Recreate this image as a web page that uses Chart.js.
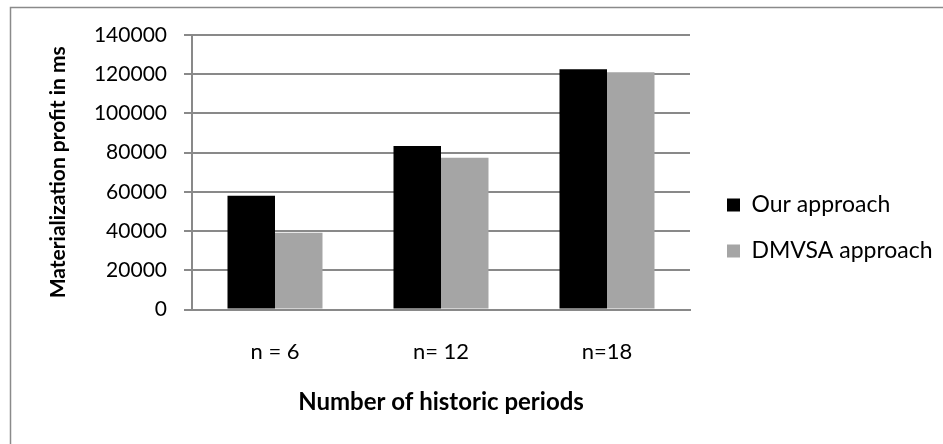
<!DOCTYPE html>
<html>
<head>
<meta charset="utf-8">
<script src="https://cdn.jsdelivr.net/npm/chart.js@4/dist/chart.umd.min.js"></script>
<style>
  html, body { margin: 0; padding: 0; background: #fff; }
  #wrap { width: 943px; height: 444px; position: relative; }
</style>
</head>
<body>
<div id="wrap"><canvas id="c"></canvas></div>
<script>
const categories = ['n = 6', 'n= 12', 'n=18'];
const ourApproach = [58000, 83400, 122500];
const dmvsaApproach = [39200, 77400, 121000];
const seriesNames = ['Our approach', 'DMVSA approach'];
const yTitle = 'Materialization profit in ms';
const xTitle = 'Number of historic periods';
const yMin = 0, yMax = 140000, yStep = 20000;

const FONT = 'Lato';
const legendFontSize = 23;
const legendPad = 23;
const legendBox = 13;
const plotRight = 690;
const gapAxisWidth = 14;

// measure legend width to size the right padding
const mctx = document.createElement('canvas').getContext('2d');
mctx.font = legendFontSize + 'px ' + FONT;
const maxText = Math.max(...seriesNames.map(s => mctx.measureText(s).width));
const legendW = legendPad + legendBox + legendFontSize / 2 + maxText + 10;
const padRight = Math.max(0, 943 - plotRight - gapAxisWidth - legendW);

const framePlugin = {
  id: 'frame',
  beforeDraw(chart) {
    const ctx = chart.ctx;
    ctx.save();
    ctx.fillStyle = '#ffffff';
    ctx.fillRect(0, 0, chart.width, chart.height);
    ctx.strokeStyle = '#8a8a8a';
    ctx.lineWidth = 1.5;
    ctx.beginPath();
    ctx.moveTo(10.5, chart.height);
    ctx.lineTo(10.5, 7.5);
    ctx.lineTo(chart.width, 7.5);
    ctx.stroke();
    ctx.restore();
  }
};

new Chart(document.getElementById('c'), {
  type: 'bar',
  data: {
    labels: categories,
    datasets: [
      { label: seriesNames[0], data: ourApproach, backgroundColor: '#000000', borderWidth: 0 },
      { label: seriesNames[1], data: dmvsaApproach, backgroundColor: '#a5a5a5', borderWidth: 0 }
    ]
  },
  options: {
    responsive: true,
    maintainAspectRatio: false,
    animation: false,
    devicePixelRatio: 1,
    categoryPercentage: 95 / 166,
    barPercentage: 1,
    layout: { padding: { left: 0, top: 35, right: padRight, bottom: 23 } },
    plugins: {
      tooltip: { enabled: false },
      legend: {
        position: 'right',
        align: 'center',
        maxWidth: 400,
        labels: {
          color: '#000',
          font: { family: FONT, size: legendFontSize },
          boxWidth: legendBox,
          boxHeight: legendBox,
          padding: legendPad
        }
      }
    },
    scales: {
      x: {
        grid: { display: false, drawTicks: false },
        border: { display: true, color: '#898989', width: 2 },
        ticks: { color: '#000', font: { family: FONT, size: 22 }, padding: 29, maxRotation: 0 },
        title: { display: true, text: xTitle, color: '#000', font: { family: FONT, size: 24, weight: 'bold' }, padding: { top: 0, bottom: 4 } },
        afterFit(s) { s.height = 111.5; }
      },
      y: {
        min: yMin, max: yMax,
        grid: { color: '#898989', lineWidth: 2, drawTicks: true, tickLength: 8, tickColor: '#898989' },
        border: { display: true, color: '#898989', width: 2 },
        ticks: { stepSize: yStep, color: '#000', font: { family: FONT, size: 21 }, padding: 17, callback: v => String(v) },
        title: { display: true, text: yTitle, color: '#000', font: { family: FONT, size: 21, weight: 'bold' }, padding: { top: 46, bottom: 0 } },
        afterFit(s) { s.width = 192; }
      },
      gap: {
        type: 'linear',
        position: 'right',
        display: true,
        grid: { display: false, drawTicks: false },
        border: { display: false },
        ticks: { display: false },
        afterFit(s) { s.width = gapAxisWidth; }
      }
    }
  },
  plugins: [framePlugin]
});
</script>
</body>
</html>
